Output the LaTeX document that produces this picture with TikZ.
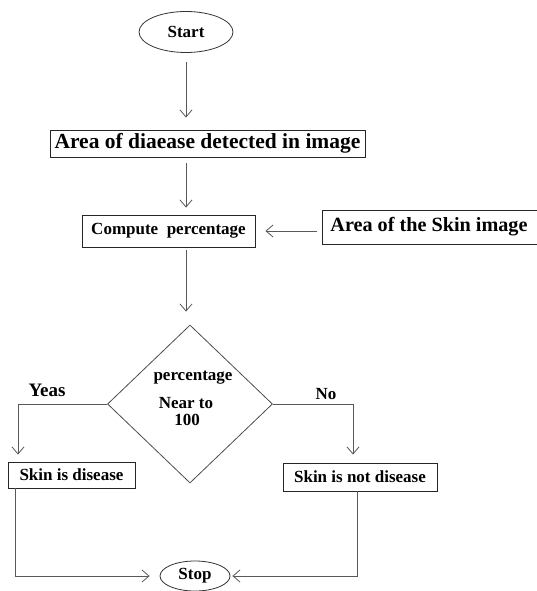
\documentclass[tikz,border=0pt]{standalone}
\usepackage{fontspec}
\setmainfont{Liberation Serif}
\usetikzlibrary{shapes.geometric,arrows.meta}
\begin{document}
\begin{tikzpicture}[
		x=1pt, y=-1pt,
		every node/.style={font=\bfseries\fontsize{17}{19}\selectfont, inner sep=0},
		big/.style={font=\bfseries\fontsize{21.5}{23}\selectfont},
		box/.style={draw=black!85, rectangle, line width=0.9pt},
		terminal/.style={draw=black!80, ellipse, line width=0.8pt},
		decision/.style={draw=black!70, diamond, line width=0.8pt},
		flow/.style={draw=black!65, line width=0.8pt, -{Straight Barb[length=7pt,width=12pt]}},
	]
	\useasboundingbox (0,0) rectangle (537,591);
	\node[terminal, minimum width=94, minimum height=41] (start) at (186,32) {Start};
	\node[box, big, minimum width=315, minimum height=27] (detect) at (207.5,143.5) {Area of diaease detected in image};
	\node[box, minimum width=173, minimum height=32] (compute) at (168.5,231) {Compute\ \ percentage};
	\node[box, font=\bfseries\fontsize{20.2}{22}\selectfont, anchor=west, minimum height=34, inner xsep=8] (skin) at (322,227) {Area of the Skin image\kern10pt};
	\node[decision, minimum width=165, minimum height=158] (check) at (190,404) {};
	\node (perc) at (193,378) {percentage};
	\node (near) at (186,403) {Near to};
	\node (hundred) at (187,420) {100};
	\node[font=\bfseries\fontsize{19}{21}\selectfont] (yes) at (47,390) {Yeas};
	\node (no) at (326,394) {No};
	\node[box, minimum width=127, minimum height=26] (disease) at (71.5,475) {Skin is disease};
	\node[box, minimum width=154, minimum height=28] (healthy) at (360,477) {Skin is not disease};
	\node[terminal, minimum width=70, minimum height=30] (stop) at (195,576) {Stop};
	\coordinate (yesturn) at (18,404);
	\coordinate (noturn) at (353,404);
	\coordinate (leftturn) at (15,576);
	\coordinate (rightturn) at (357,576);
	% main line
	\draw[flow, shorten <=9pt, shorten >=12pt] (start.south) -- (start.south |- detect.north);
	\draw[flow, shorten <=6pt, shorten >=7pt] (start.south |- detect.south) -- (start.south |- compute.north);
	\draw[flow, shorten <=5pt, shorten >=10pt] (compute.east -| skin.west) -- (compute.east);
	\draw[flow, shorten <=3pt, shorten >=13pt] (start.south |- compute.south) -- (start.south |- check.north);
	% branches
	\draw[flow, shorten >=7pt] (check.west) -- (yesturn) -- (yesturn |- disease.north);
	\draw[flow, shorten >=8pt] (check.east) -- (noturn) -- (noturn |- healthy.north);
	\draw[flow, shorten >=10pt] (leftturn |- disease.south) -- (leftturn) -- (stop.west);
	\draw[flow, shorten >=2pt] (rightturn |- healthy.south) -- (rightturn) -- (stop.east);
\end{tikzpicture}
\end{document}
